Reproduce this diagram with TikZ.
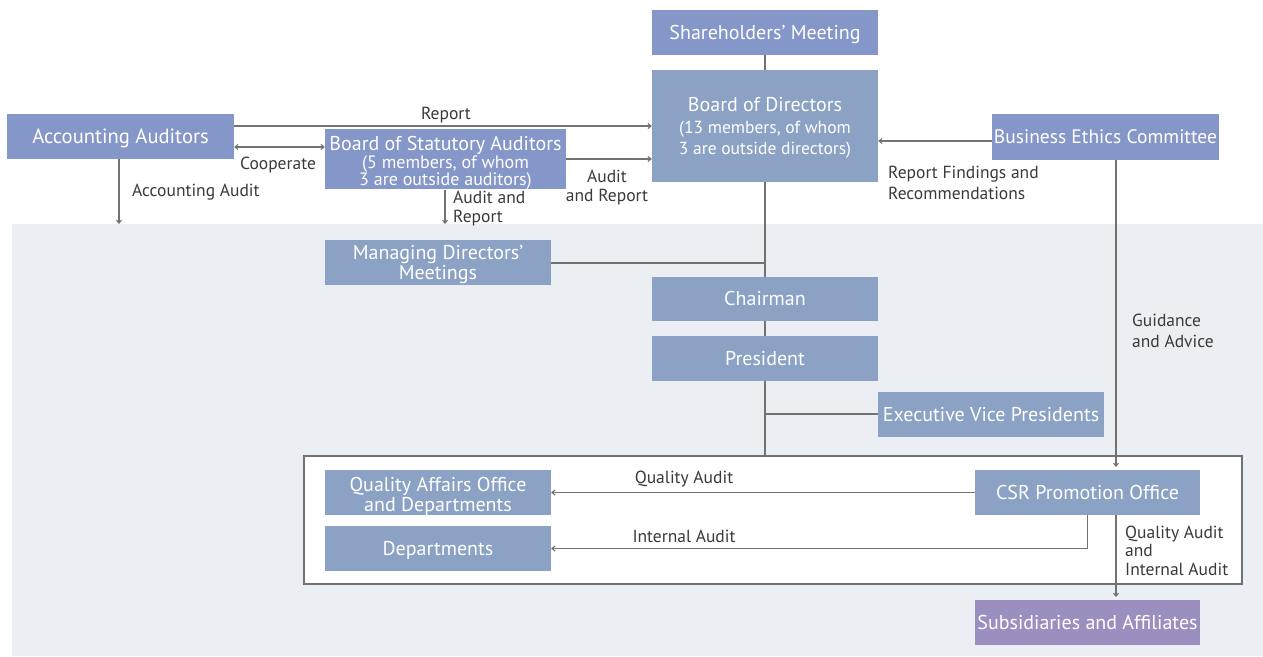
\documentclass[tikz,border=0pt]{standalone}
\usepackage{fontspec}
\setmainfont{PT Sans}
\usetikzlibrary{arrows.meta}
\definecolor{boxA}{HTML}{8596C8}
\definecolor{boxB}{HTML}{8BA2C4}
\definecolor{boxC}{HTML}{9C8FBF}
\definecolor{panel}{HTML}{EBEFF3}
\definecolor{lineg}{HTML}{727272}
\definecolor{txt}{HTML}{3A3A3A}
\tikzset{
  base/.style={rectangle, inner sep=0pt, text=white, align=center, font=\fontsize{20}{21}\selectfont},
  one/.style={text height=14pt, text depth=0.5pt},
  ba/.style={base, fill=boxA},
  bb/.style={base, fill=boxB},
  bc/.style={base, fill=boxC},
  lab/.style={text=txt, font=\fontsize{17.5}{20}\selectfont, inner sep=0pt},
  conn/.style={draw=lineg, line width=1.1pt},
  arr/.style={conn, -{Straight Barb[length=3pt,width=5pt]}},
  darr/.style={conn, {Straight Barb[length=3pt,width=5pt]}-{Straight Barb[length=3pt,width=5pt]}},
}
\begin{document}
\begin{tikzpicture}[x=1pt,y=-1pt]
\useasboundingbox (0,0) rectangle (1263,656);
\fill[panel] (12,224) rectangle (1263,656);
\node[draw=lineg, fill=white, line width=1.1pt, minimum width=938pt, minimum height=128pt, inner sep=0pt] (frame) at (773,520) {};
% coordinates
\coordinate (top) at (765,456);
% vertical spine
\draw[conn] (765,55) -- (765,70);
\draw[conn] (765,182) -- (top);
\draw[conn] (551,263) -- (765,263);
\draw[conn] (765,414) -- (878,414);
% boxes
\node[ba, one, minimum width=226pt, minimum height=45pt] (sh) at (765,32.5) {Shareholders’ Meeting};
\node[bb, minimum width=226pt, minimum height=112pt] (bod) at (765,126) {\rule{0pt}{17pt}Board of Directors\\[1pt]\fontsize{17.5}{22}\selectfont (13 members, of whom\\\fontsize{17.5}{21.5}\selectfont 3 are outside directors)};
\node[ba, one, minimum width=227pt, minimum height=45pt, font=\fontsize{20.6}{21}\selectfont] (aa) at (120.5,136.5) {Accounting Auditors};
\node[ba, minimum width=241pt, minimum height=56pt] (bsa) at (445.5,159) {\rule{0pt}{22pt}Board of Statutory Auditors\\[-3pt]\fontsize{18}{17.5}\selectfont (5 members, of whom\\[-4pt]\fontsize{18}{17.5}\selectfont 3 are outside auditors)};
\node[ba, one, minimum width=227pt, minimum height=46pt, font=\fontsize{19.5}{21}\selectfont] (bec) at (1105.5,137) {Business Ethics Committee};
\node[bb, minimum width=226pt, minimum height=45pt] (mdm) at (438,262.5) {\rule{0pt}{19pt}Managing Directors’\\[-1pt]Meetings};
\node[bb, one, minimum width=226pt, minimum height=44pt] (ch) at (765,299) {Chairman};
\node[bb, one, minimum width=226pt, minimum height=45pt] (pr) at (765,358.5) {President};
\node[bb, one, minimum width=226pt, minimum height=45pt] (evp) at (991,414.5) {Executive Vice Presidents};
\node[bb, minimum width=226pt, minimum height=45pt] (qa) at (438,492.5) {\rule{0pt}{21pt}Quality Affairs Office\\[-1pt]and Departments};
\node[bb, one, minimum width=226pt, minimum height=45pt] (dep) at (438,548.5) {Departments};
\node[bb, one, minimum width=225pt, minimum height=45pt] (csr) at (1087.5,492.5) {CSR Promotion Office};
\node[bc, one, minimum width=225pt, minimum height=45pt] (sub) at (1087.5,622.5) {Subsidiaries and Affiliates};
% connectors
\coordinate (aaR) at (aa.east |- 0,126);
\draw[arr] (aaR) -- (bod.west |- aaR);
\draw[darr] (aa.east |- 0,147) -- (bsa.west |- 0,147);
\draw[arr] (bsa.east |- 0,159) -- (bod.west |- 0,159);
\coordinate (aaD) at (119,224);
\draw[arr] (aa.south -| aaD) -- (aaD);
\coordinate (bsaD) at (445,224);
\draw[arr] (bsa.south -| bsaD) -- (bsaD);
\draw[arr] (bec.west |- 0,141) -- (bod.east |- 0,141);
\coordinate (becD) at (1116,467);
\draw[arr] (bec.south -| becD) -- (becD);
\draw[arr] (csr.west) -- (qa.east);
\draw[arr] (csr.south) |- (dep.east);
\coordinate (subT) at (1116,597);
\draw[arr] (csr.south -| subT) -- (subT);
% labels
\node[lab] (l1) at (446,115) {Report};
\node[lab] (l2) at (278,165) {Cooperate};
\node[lab, anchor=west] (l3) at (132,192) {Accounting Audit};
\node[lab, anchor=west, align=left, font=\fontsize{17.5}{19}\selectfont] (l4) at (453,208.5) {Audit and\\Report};
\node[lab, align=center, font=\fontsize{17.5}{19}\selectfont] (l5) at (607,187.5) {Audit\\and Report};
\node[lab, anchor=west, align=left, font=\fontsize{17.5}{21}\selectfont] (l6) at (888,182.5) {Report Findings and\\Recommendations};
\node[lab, anchor=west, align=left, font=\fontsize{17.5}{21}\selectfont] (l7) at (1132,330.5) {Guidance\\and Advice};
\node[lab] (l8) at (684,479) {Quality Audit};
\node[lab] (l9) at (684,536) {Internal Audit};
\node[lab, anchor=west, align=left, font=\fontsize{17.5}{18.5}\selectfont] (l10) at (1125,550.5) {Quality Audit\\and\\Internal Audit};
\end{tikzpicture}
\end{document}
